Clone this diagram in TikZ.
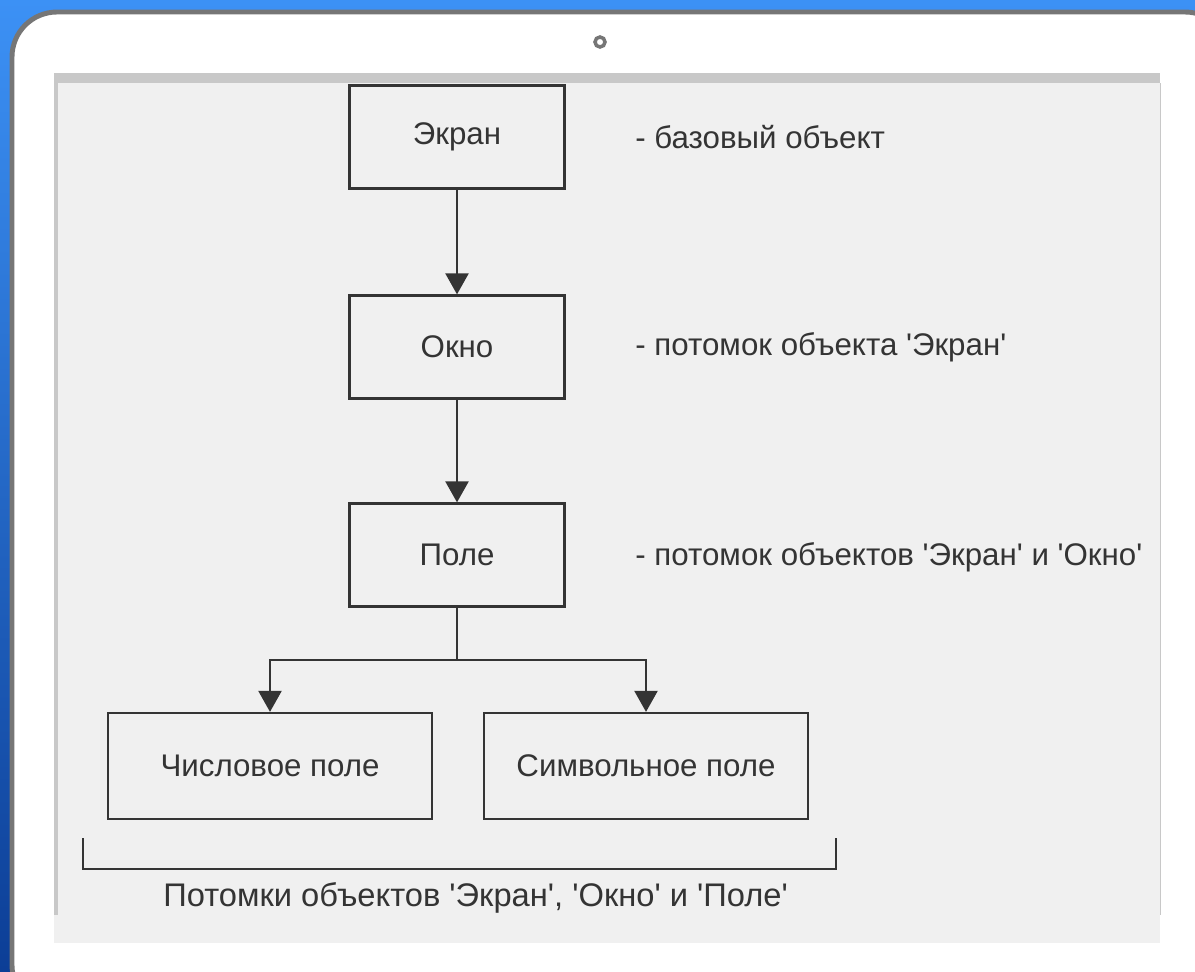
\documentclass[tikz,border=0pt]{standalone}
\usepackage{fontspec}
\setmainfont{Liberation Sans}
\usetikzlibrary{arrows.meta,positioning}
\definecolor{ink}{RGB}{52,52,52}
\definecolor{paper}{RGB}{240,240,240}
\definecolor{frame}{RGB}{118,118,118}
\definecolor{scanedge}{RGB}{200,200,200}
\definecolor{skytop}{RGB}{60,145,245}
\definecolor{skybottom}{RGB}{12,62,150}
\newcommand{\q}{\textquotesingle}
\tikzset{
  obj/.style={draw=ink, line width=1.3pt, minimum width=4.3cm, minimum height=2.06cm,
    inner sep=0pt, text=ink, font=\fontsize{17.8}{21}\selectfont},
  leaf/.style={obj, minimum width=6.48cm, minimum height=2.12cm},
  note/.style={anchor=west, inner sep=0pt, text=ink, font=\fontsize{17.8}{21}\selectfont},
  link/.style={draw=ink, line width=1.3pt, -{Triangle[length=0.42cm,width=0.46cm]}},
}

\begin{document}
\begin{tikzpicture}[x=0.02cm,y=-0.02cm]
  \useasboundingbox (0,0) rectangle (1195,971);
  \clip (0,0) rectangle (1195,971);
  \shade[top color=skytop, bottom color=skybottom] (0,0) rectangle (1195,971);
  \draw[frame, fill=white, line width=2.8pt, rounded corners=0.9cm] (12,12) rectangle (1230,1010);
  \draw[frame, line width=2pt] (600,42) circle[radius=0.1cm];

  \fill[paper] (54,73) rectangle (1160,943);
  \fill[scanedge] (54,73) rectangle (1160,83);
  \fill[scanedge] (54,83) rectangle (58,915);
  \draw[scanedge] (1160,83) -- (1160,915);

  \node[obj] (ekran) at (457,137) {Экран};
  \node[obj] (okno) at (457,347) {Окно};
  \node[obj] (pole) at (457,555) {Поле};
  \node[leaf] (chisl) at (270,766) {Числовое поле};
  \node[leaf] (simv) at (646,766) {Символьное поле};

  \node[note] (base) at (635,137) {- базовый объект};
  \node[note] (desc1) at (635,347) {- потомок объекта \q Экран\q};
  \node[note] (desc2) at (635,557) {- потомок объектов \q Экран\q{} и \q Окно\q};
  \node[note, font=\fontsize{18.6}{22}\selectfont] (desc3) at (163,898)
    {Потомки объектов \q Экран\q, \q Окно\q{} и \q Поле\q};

  \coordinate (fork) at (457,660);
  \coordinate (bl) at (83,838);
  \coordinate (br) at (836,838);

  \draw[link] (ekran) -- (okno);
  \draw[link] (okno) -- (pole);
  \draw[draw=ink, line width=1.3pt] (pole) -- (fork);
  \foreach \leafnode in {chisl,simv}
    \draw[link] (fork) -| (\leafnode);
  \draw[draw=ink, line width=1pt] (bl) -- ++(0,31) -| (br);
\end{tikzpicture}
\end{document}
